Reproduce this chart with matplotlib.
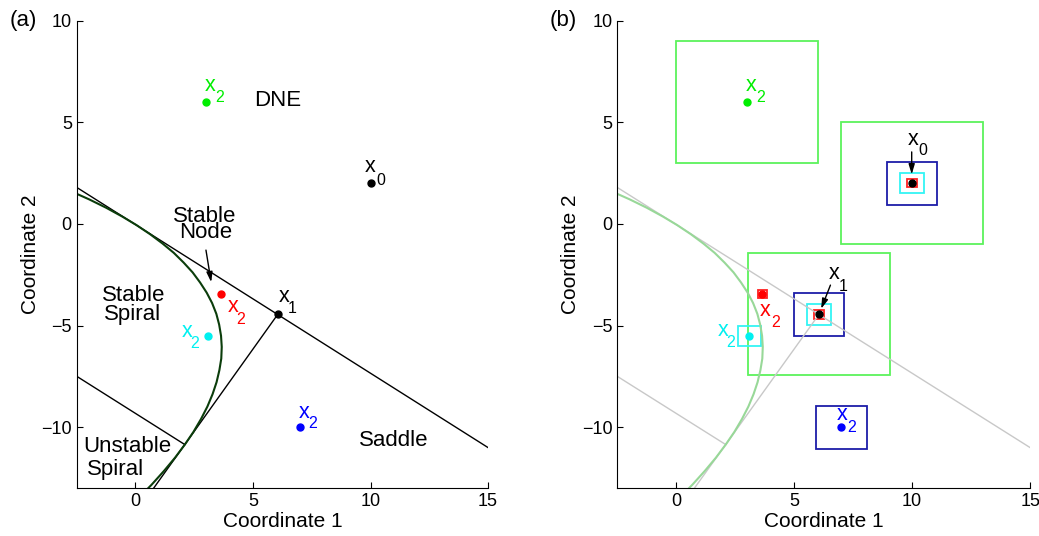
import numpy as np
import matplotlib
matplotlib.use('Agg')
import matplotlib.pyplot as plt
from matplotlib.patches import Rectangle

plt.rcParams['font.family'] = ['Liberation Sans', 'DejaVu Sans']

# iterates
x0 = (10.0, 2.0)
x1 = (6.05, -4.45)
x2_pts = {'green': (3.0, 6.0), 'red': (3.65, -3.45), 'cyan': (3.1, -5.5), 'blue': (7.0, -10.0)}

# region boundaries
line1_x = [-2.5, 15.0]
line1_y = [1.8, -11.0]
line2_x = [6.05, 0.77]
line2_y = [-4.45, -13.0]
line3_x = [-2.5, 2.1]
line3_y = [-7.49, -10.85]
curve_x = [-2.59, -1.97, -1.25, -0.57, 0.05, 0.63, 1.15, 1.63, 2.05, 2.43, 2.75, 3.03,
           3.26, 3.44, 3.56, 3.64, 3.67, 3.65, 3.57, 3.45, 3.28, 3.06, 2.79, 2.47,
           2.10, 1.68, 1.21, 0.69, 0.41]
curve_y = [1.53, 1.21, 0.80, 0.37, -0.06, -0.51, -0.96, -1.42, -1.90, -2.38, -2.88, -3.38,
           -3.89, -4.42, -4.95, -5.50, -6.05, -6.62, -7.19, -7.78, -8.37, -8.98, -9.59, -10.22,
           -10.85, -11.50, -12.15, -12.82, -13.15]

# trust region half widths
radii = {'green': 3.0, 'blue': 1.07, 'cyan': 0.5, 'red': 0.2}
box_col = {'green': '#5cf25c', 'blue': '#1c1ca8', 'cyan': '#33f5f5', 'red': '#ff2020'}
pt_col = {'green': '#00ee00', 'blue': '#0000ff', 'cyan': '#00f0f0', 'red': '#ff0000'}

FS = 16        # region names
FS_X = 15.5    # iterate labels
FS_SUB = 11.5


def xlab(ax, pt, sub, color, off_x, off_s):
    # offsets in pixels (dx, dy down) of glyph centres
    ax.annotate('x', pt, xytext=(off_x[0], -(off_x[1] + 5.5)), textcoords='offset pixels',
                ha='center', va='baseline', color=color, fontsize=FS_X)
    ax.annotate(sub, pt, xytext=(off_s[0], -(off_s[1] + 5.5)), textcoords='offset pixels',
                ha='center', va='baseline', color=color, fontsize=FS_SUB)


def setup(ax):
    ax.set_xlim(-2.5, 15)
    ax.set_ylim(-13, 10)
    ax.set_xticks([0, 5, 10, 15])
    ax.set_yticks([-10, -5, 0, 5, 10])
    ax.spines['top'].set_visible(False)
    ax.spines['right'].set_visible(False)
    ax.tick_params(direction='in', length=4, labelsize=13)
    ax.set_xlabel('Coordinate 1', fontsize=15, labelpad=1)
    ax.set_ylabel('Coordinate 2', fontsize=15, labelpad=1)


fig = plt.figure(figsize=(10.39, 5.36), dpi=100)
axa = fig.add_axes([0.0738, 0.089, 0.396, 0.8725])
axb = fig.add_axes([0.594, 0.089, 0.3975, 0.8725])

# ---- (a)
ax = axa
setup(ax)
ax.plot(line1_x, line1_y, color='k', lw=1)
ax.plot(line2_x, line2_y, color='k', lw=1)
ax.plot(line3_x, line3_y, color='k', lw=1)
ax.plot(curve_x, curve_y, color='#0b3d0b', lw=1.5)
for c, p in x2_pts.items():
    ax.plot(*p, 'o', color=pt_col[c], ms=5)
ax.plot(*x0, 'ko', ms=5)
ax.plot(*x1, 'ko', ms=5)
xlab(ax, x2_pts['green'], '2', pt_col['green'], (4, -16), (14, -5))
xlab(ax, x2_pts['red'], '2', pt_col['red'], (12, 12), (19, 24))
xlab(ax, x2_pts['cyan'], '2', pt_col['cyan'], (-21, -4), (-14, 7))
xlab(ax, x2_pts['blue'], '2', pt_col['blue'], (4, -15), (13, -5))
xlab(ax, x1, '1', 'k', (6, -18), (14, -7))
xlab(ax, x0, '0', 'k', (0, -17), (10, -4))
ax.text(6.07, 5.8, 'DNE', ha='center', va='baseline', fontsize=FS)
ax.text(11.0, -10.9, 'Saddle', ha='center', va='baseline', fontsize=FS)
ax.text(2.95, 0.11, 'Stable', ha='center', va='baseline', fontsize=FS)
ax.text(2.98, -0.67, 'Node', ha='center', va='baseline', fontsize=FS)
ax.text(-0.09, -3.77, 'Stable', ha='center', va='baseline', fontsize=FS)
ax.text(-0.12, -4.72, 'Spiral', ha='center', va='baseline', fontsize=FS)
ax.text(-0.34, -11.2, 'Unstable', ha='center', va='baseline', fontsize=FS)
ax.text(-0.85, -12.35, 'Spiral', ha='center', va='baseline', fontsize=FS)
ax.annotate('', xy=(3.24, -3.0), xytext=(2.98, -1.15),
            arrowprops=dict(arrowstyle='-|>,head_width=0.18,head_length=0.6', color='k', lw=1))
ax.text(-0.163, 1.0, '(a)', transform=ax.transAxes, ha='left', va='center', fontsize=16)

# ---- (b)
ax = axb
setup(ax)
ax.plot(line1_x, line1_y, color='#c8c8c8', lw=1)
ax.plot(line2_x, line2_y, color='#c8c8c8', lw=1)
ax.plot(line3_x, line3_y, color='#c8c8c8', lw=1)
ax.plot(curve_x, curve_y, color='#98d898', lw=1.5)
for c, r in radii.items():
    for cx, cy in (x0, x1, x2_pts[c]):
        ax.add_patch(Rectangle((cx - r, cy - r), 2 * r, 2 * r, fill=False,
                               ec=box_col[c], lw=1.3))
for c, p in x2_pts.items():
    ax.plot(*p, 'o', color=pt_col[c], ms=5)
ax.plot(*x0, 'ko', ms=5)
ax.plot(*x1, 'ko', ms=5)
xlab(ax, x2_pts['green'], '2', pt_col['green'], (4, -16), (14, -5))
xlab(ax, x2_pts['red'], '2', pt_col['red'], (3, 16), (13, 27))
xlab(ax, x2_pts['cyan'], '2', pt_col['cyan'], (-26, -5), (-19, 6))
xlab(ax, x2_pts['blue'], '2', pt_col['blue'], (1, -13), (10, -1))
xlab(ax, x0, '0', 'k', (1, -44), (11, -34))
xlab(ax, x1, '1', 'k', (15, -41), (24, -29))
ax.annotate('', xy=(9.98, 2.3), xytext=(9.98, 3.68),
            arrowprops=dict(arrowstyle='-|>,head_width=0.18,head_length=0.6', color='k', lw=1))
ax.annotate('', xy=(6.1, -4.3), xytext=(6.58, -2.88),
            arrowprops=dict(arrowstyle='-|>,head_width=0.18,head_length=0.6', color='k', lw=1))
ax.text(-0.163, 1.0, '(b)', transform=ax.transAxes, ha='left', va='center', fontsize=16)

fig.savefig('out.png', dpi=100)
